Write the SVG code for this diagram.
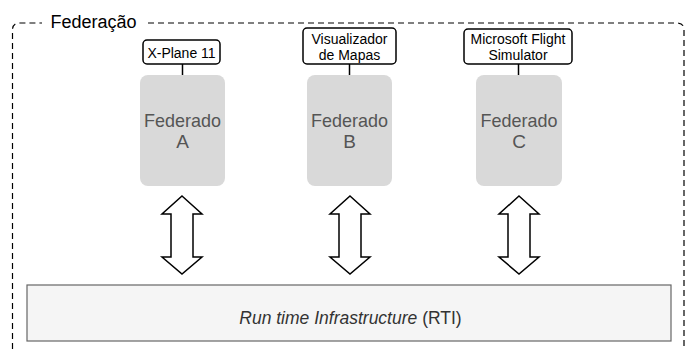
<svg xmlns="http://www.w3.org/2000/svg" width="685" height="349" viewBox="0 0 685 349">
<style>
.fed{fill:#d9d9d9;stroke:none}
.fedt{font-family:"Liberation Sans",Arial,sans-serif;font-size:19px;fill:#555;text-anchor:middle}
.lbl{fill:#fff;stroke:#000;stroke-width:1.5}
.lblt{font-family:"Liberation Sans",Arial,sans-serif;font-size:14px;fill:#000;text-anchor:middle}
.arr{fill:#fff;stroke:#000;stroke-width:1.5;stroke-linejoin:miter}
.ln{stroke:#000;stroke-width:1.5;fill:none}
</style>
<g id="federacao">
<path d="M12.5,349 V30 Q12.5,23 19.5,23 H42 M148,23 H677 Q684,23 684,30 V349" fill="none" stroke="#000" stroke-width="1.2" stroke-dasharray="6,4"/>
<text x="50.5" y="27.5" font-family="Liberation Sans,Arial,sans-serif" font-size="18" fill="#000">Federação</text>
</g>
<g id="rti">
<rect x="27" y="285" width="644" height="56" fill="#f5f5f5" stroke="#666" stroke-width="1.2"/>
<text x="350.5" y="324" font-family="Liberation Sans,Arial,sans-serif" font-size="17.5" fill="#333" text-anchor="middle"><tspan font-style="italic">Run time Infrastructure</tspan> (RTI)</text>
</g>
<g id="fedA">
<rect class="fed" x="140" y="75" width="85" height="111" rx="8"/>
<text class="fedt" x="182.5" y="127" textLength="77" lengthAdjust="spacingAndGlyphs">Federado</text>
<text class="fedt" x="182.5" y="148">A</text>
</g>
<g id="fedB">
<rect class="fed" x="307" y="75" width="85" height="111" rx="8"/>
<text class="fedt" x="349.5" y="127" textLength="77" lengthAdjust="spacingAndGlyphs">Federado</text>
<text class="fedt" x="349.5" y="148">B</text>
</g>
<g id="fedC">
<rect class="fed" x="476" y="75" width="86" height="111" rx="8"/>
<text class="fedt" x="519" y="127" textLength="77" lengthAdjust="spacingAndGlyphs">Federado</text>
<text class="fedt" x="519" y="148">C</text>
</g>
<g id="lblA">
<rect class="lbl" x="143" y="40" width="77" height="24" rx="4"/>
<text class="lblt" x="181.5" y="57.5" font-size="15">X-Plane 11</text>
</g>
<g id="lblB">
<rect class="lbl" x="303" y="28" width="93" height="36" rx="4"/>
<text class="lblt" x="349.5" y="43.5">Visualizador</text>
<text class="lblt" x="349.5" y="59.5">de Mapas</text>
</g>
<g id="lblC">
<rect class="lbl" x="464" y="29" width="108" height="35" rx="4"/>
<text class="lblt" x="518" y="44">Microsoft Flight</text>
<text class="lblt" x="518" y="60">Simulator</text>
</g>
<g id="connectors">
<line class="ln" x1="182.5" y1="64" x2="182.5" y2="75"/>
<line class="ln" x1="349.5" y1="64" x2="349.5" y2="75"/>
<line class="ln" x1="518.5" y1="64" x2="518.5" y2="75"/>
<path class="arr" d="M182,196 L202,214 H193 V257 H202 L182,274 L162,257 H171 V214 H162 Z"/>
<path class="arr" d="M350,196 L370,214 H361 V257 H370 L350,274 L330,257 H339 V214 H330 Z"/>
<path class="arr" d="M519,196 L539,214 H530 V257 H539 L519,274 L499,257 H508 V214 H499 Z"/>
</g>
</svg>
